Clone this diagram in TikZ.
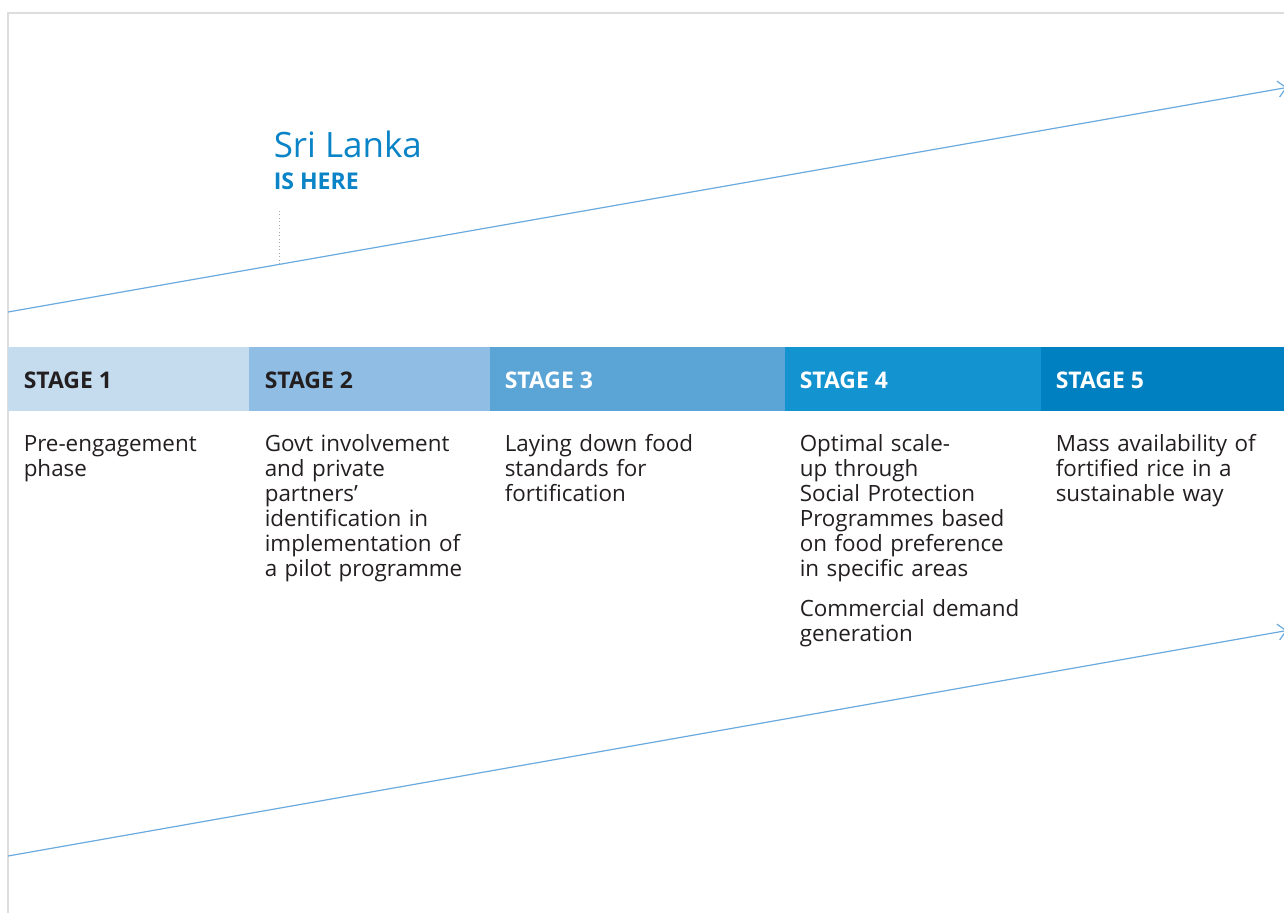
\documentclass[tikz,border=0pt]{standalone}
\usepackage{fontspec}
\setmainfont{Open Sans}
\usetikzlibrary{arrows.meta}
\definecolor{sone}{HTML}{C5DCEF}
\definecolor{stwo}{HTML}{8FBDE3}
\definecolor{sthree}{HTML}{5BA5D6}
\definecolor{sfour}{HTML}{1393CF}
\definecolor{sfive}{HTML}{0080C0}
\definecolor{bodytext}{HTML}{231F20}
\definecolor{hereblue}{HTML}{0A84C6}
\definecolor{linkline}{HTML}{6AAADE}
\definecolor{framegray}{HTML}{DDDDDD}
\begin{document}
\begin{tikzpicture}[x=0.75pt,y=-0.75pt,
  stagebox/.style={anchor=north west, inner sep=0pt, minimum height=48pt, draw=none},
  stagelabel/.style={anchor=base west, inner sep=0pt, font=\bfseries\fontsize{17.2}{20}\selectfont},
  bodynode/.style={anchor=base west, inner sep=0pt, align=left, text width=210pt, text=bodytext,
    font=\fontsize{16.8}{18.75}\selectfont},
  rise/.style={draw=linkline, line width=0.9pt, -{Straight Barb[length=6pt,width=12pt,line width=0.9pt]}},
  pointer/.style={draw=gray!70, line width=0.6pt, dotted}
]
\useasboundingbox (0,0) rectangle (1284,913);
\fill[white] (0,0) rectangle (1284,913);
% frame
\draw[framegray, line width=1.2pt] (1290,13) -- (8,13) -- (8,920);

% rising lines
\coordinate (ua) at (8,312);
\coordinate (ub) at (1287,87.5);
\coordinate (la) at (8,856);
\coordinate (lb) at (1287,630.5);
\draw[rise] (ua) -- (ub);
\draw[rise] (la) -- (lb);

% Sri Lanka marker
\node[anchor=base west, inner sep=0pt, text=hereblue, font=\fontsize{26.2}{30}\selectfont] (sri) at (273.5,157) {Sri Lanka};
\node[anchor=base west, inner sep=0pt, text=hereblue, font=\bfseries\fontsize{17.3}{20}\selectfont] (here) at (273.5,190) {IS HERE};
\coordinate (pa) at (279,211);
\coordinate (pb) at (279,264.4);
\draw[pointer] (pa) -- (pb);

% stage bar
\node[stagebox, fill=sone, minimum width=180.75pt] (b1) at (8,347) {};
\node[stagebox, fill=stwo, minimum width=180.75pt] (b2) at (249,347) {};
\node[stagebox, fill=sthree, minimum width=221.25pt] (b3) at (490,347) {};
\node[stagebox, fill=sfour, minimum width=192pt] (b4) at (785,347) {};
\node[stagebox, fill=sfive, minimum width=182.25pt] (b5) at (1041,347) {};

\node[stagelabel, text=bodytext] (l1) at (23.5,388) {STAGE 1};
\node[stagelabel, text=bodytext] (l2) at (264.5,388) {STAGE 2};
\node[stagelabel, text=white] (l3) at (504.5,388) {STAGE 3};
\node[stagelabel, text=white] (l4) at (799.5,388) {STAGE 4};
\node[stagelabel, text=white] (l5) at (1055.5,388) {STAGE 5};

% descriptions
\node[bodynode] (t1) at (23.5,451) {Pre-engagement\\phase};
\node[bodynode] (t2) at (264.5,451) {Govt involvement\\and private\\partners’\\identification in\\implementation of\\a pilot programme};
\node[bodynode] (t3) at (504.5,451) {Laying down food\\standards for\\fortification};
\node[bodynode] (t4) at (799.5,451) {Optimal scale-\\up through\\Social Protection\\Programmes based\\on food preference\\in specific areas\\[11.25pt]Commercial demand\\generation};
\node[bodynode] (t5) at (1055.5,451) {Mass availability of\\fortified rice in a\\sustainable way};
\end{tikzpicture}
\end{document}
